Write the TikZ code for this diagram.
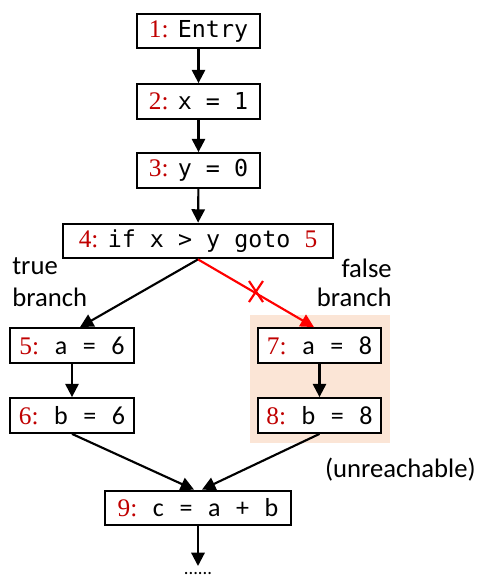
\documentclass[tikz,border=0pt]{standalone}
\usepackage{fontspec}
\setmainfont{Carlito}
\newfontfamily\codefont{DejaVu Sans Mono}
\newfontfamily\numfont{Liberation Serif}
\usetikzlibrary{arrows.meta}
\definecolor{numred}{RGB}{192,0,0}
\definecolor{peach}{RGB}{251,229,214}
\begin{document}
\begin{tikzpicture}[x=0.75pt,y=-0.75pt,
  codebox/.style={draw=black,line width=1.6pt,fill=white,inner sep=0pt,minimum height=26pt,font=\codefont\fontsize{17.5}{20}\selectfont},
  sansbox/.style={draw=black,line width=1.6pt,fill=white,inner sep=0pt,minimum height=26pt,font=\fontsize{19.5}{22}\selectfont},
  flow/.style={line width=1.6pt,-{Triangle[width=10pt,length=10pt]}},
  redflow/.style={flow,draw=red,-{Triangle[width=10pt,length=10pt,fill=red]}},
  lbl/.style={font=\fontsize{20}{24}\selectfont,inner sep=0pt}]
\useasboundingbox (0,0) rectangle (478,583);
\newcommand{\nr}[1]{{\numfont\fontsize{19}{22}\selectfont\color{numred}#1:}}
\newcommand{\gapsp}{\hspace{0.6em}}
\newcommand{\cgap}{\hspace{0.4em}}
\fill[peach] (250,315) rectangle (390,443);
\node[codebox,minimum width=92pt] (n1) at (198.5,31) {\nr{1}\cgap Entry};
\node[codebox,minimum width=92pt] (n2) at (198.5,101.5) {\nr{2}\cgap x = 1};
\node[codebox,minimum width=92pt] (n3) at (198.5,170.5) {\nr{3}\cgap y = 0};
\node[codebox,minimum width=202pt] (n4) at (198,241) {\nr{4}\cgap if x > y goto {\numfont\fontsize{19}{22}\selectfont\color{numred}5}};
\node[sansbox,minimum width=93pt] (n5) at (72,345.5) {\nr{5}\gapsp a\gapsp=\gapsp 6};
\node[sansbox,minimum width=93pt] (n6) at (72,415.5) {\nr{6}\gapsp b\gapsp=\gapsp 6};
\node[sansbox,minimum width=92pt] (n7) at (319.5,345.5) {\nr{7}\gapsp a\gapsp=\gapsp 8};
\node[sansbox,minimum width=92pt] (n8) at (319.5,415.5) {\nr{8}\gapsp b\gapsp=\gapsp 8};
\node[sansbox,minimum width=139pt] (n9) at (198,508) {\nr{9}\gapsp c\gapsp=\gapsp a\gapsp+\gapsp b};
\coordinate (end) at (198,566);
\node[lbl,anchor=west] (t1) at (12,266) {true};
\node[lbl,anchor=west] (t2) at (12,297) {branch};
\node[lbl,anchor=east] (f1) at (392,268) {false};
\node[lbl,anchor=east] (f2) at (392,297) {branch};
\node[lbl,anchor=east] (u) at (476,470) {(unreachable)};
\node[lbl,font=\fontsize{14}{16}\selectfont] (dots) at (198,574) {......};
\draw[flow] (n1) -- (n2);
\draw[flow] (n2) -- (n3);
\draw[flow] (n3) -- (n4);
\draw[flow] (n4.south) -- (n5.north -| 80,0);
\draw[redflow] (n4.south) -- (n7.north -| 314,0);
\draw[flow] (n5) -- (n6);
\draw[flow] (n7) -- (n8);
\draw[flow] (n6.south) -- (n9.north -| 194,0);
\draw[flow] (n8.south) -- (n9.north -| 202,0);
\draw[flow] (n9) -- (end);
\draw[red,line width=1.6pt] (249,281) -- (263,302) (263,281) -- (249,302);
\end{tikzpicture}
\end{document}
